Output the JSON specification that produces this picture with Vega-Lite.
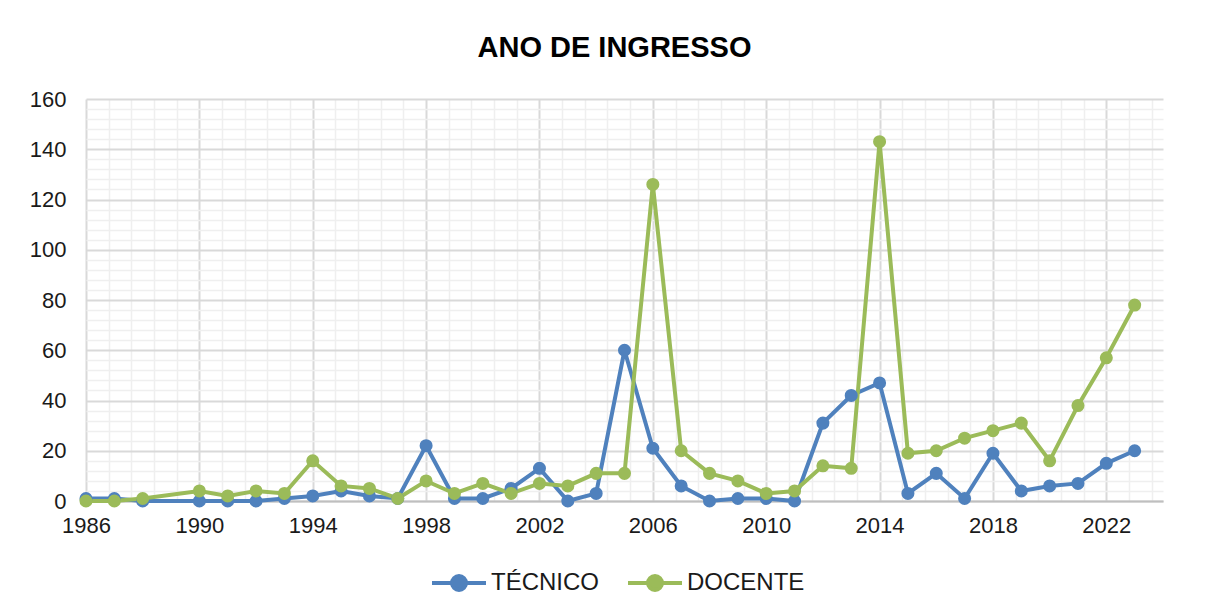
{
  "$schema": "https://vega.github.io/schema/vega-lite/v6.json",
  "autosize": "none",
  "width": 1077,
  "height": 402,
  "padding": {"left": 86, "top": 99, "right": 45, "bottom": 109},
  "background": "white",
  "config": {"view": {"stroke": null}, "font": "Liberation Sans"},
  "title": {"text": "ANO DE INGRESSO", "fontSize": 29, "font": "Liberation Sans", "fontWeight": "bold", "color": "#000000", "anchor": "middle", "frame": "group", "baseline": "alphabetic", "offset": 2, "dx": -10},
  "data": {"values": [
    {"ano": 1986, "tipo": "TÉCNICO", "valor": 1},
    {"ano": 1987, "tipo": "TÉCNICO", "valor": 1},
    {"ano": 1988, "tipo": "TÉCNICO", "valor": 0},
    {"ano": 1990, "tipo": "TÉCNICO", "valor": 0},
    {"ano": 1991, "tipo": "TÉCNICO", "valor": 0},
    {"ano": 1992, "tipo": "TÉCNICO", "valor": 0},
    {"ano": 1993, "tipo": "TÉCNICO", "valor": 1},
    {"ano": 1994, "tipo": "TÉCNICO", "valor": 2},
    {"ano": 1995, "tipo": "TÉCNICO", "valor": 4},
    {"ano": 1996, "tipo": "TÉCNICO", "valor": 2},
    {"ano": 1997, "tipo": "TÉCNICO", "valor": 1},
    {"ano": 1998, "tipo": "TÉCNICO", "valor": 22},
    {"ano": 1999, "tipo": "TÉCNICO", "valor": 1},
    {"ano": 2000, "tipo": "TÉCNICO", "valor": 1},
    {"ano": 2001, "tipo": "TÉCNICO", "valor": 5},
    {"ano": 2002, "tipo": "TÉCNICO", "valor": 13},
    {"ano": 2003, "tipo": "TÉCNICO", "valor": 0},
    {"ano": 2004, "tipo": "TÉCNICO", "valor": 3},
    {"ano": 2005, "tipo": "TÉCNICO", "valor": 60},
    {"ano": 2006, "tipo": "TÉCNICO", "valor": 21},
    {"ano": 2007, "tipo": "TÉCNICO", "valor": 6},
    {"ano": 2008, "tipo": "TÉCNICO", "valor": 0},
    {"ano": 2009, "tipo": "TÉCNICO", "valor": 1},
    {"ano": 2010, "tipo": "TÉCNICO", "valor": 1},
    {"ano": 2011, "tipo": "TÉCNICO", "valor": 0},
    {"ano": 2012, "tipo": "TÉCNICO", "valor": 31},
    {"ano": 2013, "tipo": "TÉCNICO", "valor": 42},
    {"ano": 2014, "tipo": "TÉCNICO", "valor": 47},
    {"ano": 2015, "tipo": "TÉCNICO", "valor": 3},
    {"ano": 2016, "tipo": "TÉCNICO", "valor": 11},
    {"ano": 2017, "tipo": "TÉCNICO", "valor": 1},
    {"ano": 2018, "tipo": "TÉCNICO", "valor": 19},
    {"ano": 2019, "tipo": "TÉCNICO", "valor": 4},
    {"ano": 2020, "tipo": "TÉCNICO", "valor": 6},
    {"ano": 2021, "tipo": "TÉCNICO", "valor": 7},
    {"ano": 2022, "tipo": "TÉCNICO", "valor": 15},
    {"ano": 2023, "tipo": "TÉCNICO", "valor": 20},
    {"ano": 1986, "tipo": "DOCENTE", "valor": 0},
    {"ano": 1987, "tipo": "DOCENTE", "valor": 0},
    {"ano": 1988, "tipo": "DOCENTE", "valor": 1},
    {"ano": 1990, "tipo": "DOCENTE", "valor": 4},
    {"ano": 1991, "tipo": "DOCENTE", "valor": 2},
    {"ano": 1992, "tipo": "DOCENTE", "valor": 4},
    {"ano": 1993, "tipo": "DOCENTE", "valor": 3},
    {"ano": 1994, "tipo": "DOCENTE", "valor": 16},
    {"ano": 1995, "tipo": "DOCENTE", "valor": 6},
    {"ano": 1996, "tipo": "DOCENTE", "valor": 5},
    {"ano": 1997, "tipo": "DOCENTE", "valor": 1},
    {"ano": 1998, "tipo": "DOCENTE", "valor": 8},
    {"ano": 1999, "tipo": "DOCENTE", "valor": 3},
    {"ano": 2000, "tipo": "DOCENTE", "valor": 7},
    {"ano": 2001, "tipo": "DOCENTE", "valor": 3},
    {"ano": 2002, "tipo": "DOCENTE", "valor": 7},
    {"ano": 2003, "tipo": "DOCENTE", "valor": 6},
    {"ano": 2004, "tipo": "DOCENTE", "valor": 11},
    {"ano": 2005, "tipo": "DOCENTE", "valor": 11},
    {"ano": 2006, "tipo": "DOCENTE", "valor": 126},
    {"ano": 2007, "tipo": "DOCENTE", "valor": 20},
    {"ano": 2008, "tipo": "DOCENTE", "valor": 11},
    {"ano": 2009, "tipo": "DOCENTE", "valor": 8},
    {"ano": 2010, "tipo": "DOCENTE", "valor": 3},
    {"ano": 2011, "tipo": "DOCENTE", "valor": 4},
    {"ano": 2012, "tipo": "DOCENTE", "valor": 14},
    {"ano": 2013, "tipo": "DOCENTE", "valor": 13},
    {"ano": 2014, "tipo": "DOCENTE", "valor": 143},
    {"ano": 2015, "tipo": "DOCENTE", "valor": 19},
    {"ano": 2016, "tipo": "DOCENTE", "valor": 20},
    {"ano": 2017, "tipo": "DOCENTE", "valor": 25},
    {"ano": 2018, "tipo": "DOCENTE", "valor": 28},
    {"ano": 2019, "tipo": "DOCENTE", "valor": 31},
    {"ano": 2020, "tipo": "DOCENTE", "valor": 16},
    {"ano": 2021, "tipo": "DOCENTE", "valor": 38},
    {"ano": 2022, "tipo": "DOCENTE", "valor": 57},
    {"ano": 2023, "tipo": "DOCENTE", "valor": 78}
  ]},
  "layer": [
    {
      "mark": {"type": "line", "strokeWidth": 4},
      "encoding": {
        "x": {"field": "ano", "type": "quantitative", "scale": {"domain": [1986, 2024], "nice": false, "zero": false},
          "axis": {"orient": "bottom", "title": null, "labels": false, "ticks": false, "domain": false, "grid": true, "gridColor": "#efefef", "gridWidth": 1.5,
            "values": [1986.8, 1987.6, 1988.4, 1989.2, 1990.8, 1991.6, 1992.4, 1993.2, 1994.8, 1995.6, 1996.4, 1997.2, 1998.8, 1999.6, 2000.4, 2001.2, 2002.8, 2003.6, 2004.4, 2005.2, 2006.8, 2007.6, 2008.4, 2009.2, 2010.8, 2011.6, 2012.4, 2013.2, 2014.8, 2015.6, 2016.4, 2017.2, 2018.8, 2019.6, 2020.4, 2021.2, 2022.8, 2023.6]}},
        "y": {"field": "valor", "type": "quantitative", "scale": {"domain": [0, 160], "nice": false},
          "axis": {"orient": "left", "title": null, "labels": false, "ticks": false, "domain": false, "grid": true, "gridColor": "#efefef", "gridWidth": 1.5,
            "values": [4, 8, 12, 16, 24, 28, 32, 36, 44, 48, 52, 56, 64, 68, 72, 76, 84, 88, 92, 96, 104, 108, 112, 116, 124, 128, 132, 136, 144, 148, 152, 156]}},
        "color": {"field": "tipo", "type": "nominal", "scale": {"domain": ["TÉCNICO", "DOCENTE"], "range": ["#4F81BD", "#9BBB59"]},
          "legend": {"title": null, "orient": "none", "direction": "horizontal", "legendX": 361, "legendY": 472, "symbolType": "M-5.4,0H5.4M-1.4,0A1.4,1.4,0,1,1,1.4,0A1.4,1.4,0,1,1,-1.4,0Z", "symbolSize": 100, "symbolStrokeWidth": 4, "labelFont": "Liberation Sans", "labelFontSize": 24, "labelColor": "#1a1a1a", "labelOffset": 20, "columnPadding": 21}}
      }
    },
    {
      "mark": {"type": "point", "filled": true, "size": 170, "opacity": 1, "strokeWidth": 1},
      "encoding": {
        "x": {"field": "ano", "type": "quantitative",
          "axis": {"orient": "bottom", "title": null, "values": [1986, 1990, 1994, 1998, 2002, 2006, 2010, 2014, 2018, 2022], "format": "d", "ticks": false, "domain": true, "domainColor": "#bfbfbf", "domainWidth": 2, "grid": true, "gridColor": "#d9d9d9", "gridWidth": 2, "labelFont": "Liberation Sans", "labelFontSize": 22, "labelColor": "#1a1a1a", "labelPadding": 14, "labelFlush": false}},
        "y": {"field": "valor", "type": "quantitative",
          "axis": {"orient": "left", "title": null, "values": [0, 20, 40, 60, 80, 100, 120, 140, 160], "ticks": false, "domain": false, "grid": true, "gridColor": "#d9d9d9", "gridWidth": 2, "labelFont": "Liberation Sans", "labelFontSize": 22, "labelColor": "#1a1a1a", "labelPadding": 20}},
        "color": {"field": "tipo", "type": "nominal", "scale": {"domain": ["TÉCNICO", "DOCENTE"], "range": ["#4F81BD", "#9BBB59"]},
          "legend": {"title": null, "orient": "none", "direction": "horizontal", "legendX": 361, "legendY": 472, "symbolType": "M-5.4,0H5.4M-1.4,0A1.4,1.4,0,1,1,1.4,0A1.4,1.4,0,1,1,-1.4,0Z", "symbolSize": 100, "symbolStrokeWidth": 4, "labelFont": "Liberation Sans", "labelFontSize": 24, "labelColor": "#1a1a1a", "labelOffset": 20, "columnPadding": 21}}
      }
    }
  ],
  "resolve": {"axis": {"x": "independent", "y": "independent"}}
}
